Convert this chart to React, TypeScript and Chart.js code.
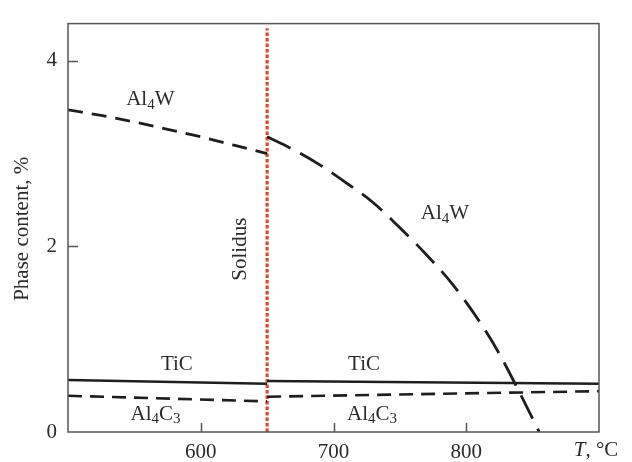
import React, { useEffect, useRef } from "react";
import { Chart, registerables } from "chart.js";

Chart.register(...registerables);

// ---- Data ----
const al4wSolidT = [500, 525, 550, 575, 600, 625, 650];
const al4wSolid = [3.47, 3.41, 3.34, 3.26, 3.18, 3.09, 3.0];
const al4wLiquidT = [650, 670, 690, 710, 730, 750, 770, 790, 810, 825, 840, 855];
const al4wLiquid = [3.18, 3.04, 2.875, 2.68, 2.47, 2.2, 1.91, 1.585, 1.19, 0.84, 0.43, 0];
const ticSolidT = [500, 650];
const ticSolid = [0.56, 0.52];
const ticLiquidT = [650, 900];
const ticLiquid = [0.55, 0.52];
const al4c3SolidT = [500, 650];
const al4c3Solid = [0.39, 0.33];
const al4c3LiquidT = [650, 900];
const al4c3Liquid = [0.38, 0.44];
const solidusT = 650;
const solidusY = [0, 4.35];
const xTickLabels = [600, 700, 800];
const yTickLabels = [0, 2, 4];

const FONT = "'Liberation Serif', 'DejaVu Serif', serif";
const FS = 21;
const TEXT = "#2b2b2b";
const LINE = "#1e1e1e";

const pts = (xs: number[], ys: number[]) => xs.map((x, i) => ({ x, y: ys[i] }));

type Seg = { t: string; sub?: boolean };
const labels: { segs: Seg[]; x: number; y: number; rot?: boolean }[] = [
  { segs: [{ t: "Al" }, { t: "4", sub: true }, { t: "W" }], x: 562, y: 3.58 },
  { segs: [{ t: "Al" }, { t: "4", sub: true }, { t: "W" }], x: 784, y: 2.35 },
  { segs: [{ t: "TiC" }], x: 582, y: 0.73 },
  { segs: [{ t: "TiC" }], x: 723, y: 0.73 },
  { segs: [{ t: "Al" }, { t: "4", sub: true }, { t: "C" }, { t: "3", sub: true }], x: 566, y: 0.19 },
  { segs: [{ t: "Al" }, { t: "4", sub: true }, { t: "C" }, { t: "3", sub: true }], x: 729, y: 0.19 },
  { segs: [{ t: "Solidus" }], x: 630, y: 1.97, rot: true },
];

function drawSegs(ctx: CanvasRenderingContext2D, segs: Seg[], cx: number, cy: number) {
  const main = `${FS}px ${FONT}`;
  const sub = `${FS - 6}px ${FONT}`;
  let total = 0;
  const widths = segs.map((s) => {
    ctx.font = s.sub ? sub : main;
    const w = ctx.measureText(s.t).width;
    total += w;
    return w;
  });
  let x = cx - total / 2;
  ctx.textBaseline = "middle";
  ctx.textAlign = "left";
  segs.forEach((s, i) => {
    ctx.font = s.sub ? sub : main;
    ctx.fillText(s.t, x, s.sub ? cy + 5 : cy);
    x += widths[i];
  });
}

const decor = {
  id: "decor",
  afterDraw(chart: any) {
    const { ctx, chartArea: a, scales } = chart;
    const xs = scales.x;
    const ys = scales.y;
    ctx.save();
    ctx.strokeStyle = "#555";
    ctx.lineWidth = 1.5;
    ctx.strokeRect(a.left, a.top, a.right - a.left, a.bottom - a.top);
    ctx.beginPath();
    xTickLabels.forEach((v) => {
      const px = Math.round(xs.getPixelForValue(v)) + 0.5;
      ctx.moveTo(px, a.bottom);
      ctx.lineTo(px, a.bottom - 9);
    });
    yTickLabels.forEach((v) => {
      if (v === 0) return;
      const py = Math.round(ys.getPixelForValue(v)) + 0.5;
      ctx.moveTo(a.left, py);
      ctx.lineTo(a.left + 10, py);
    });
    ctx.stroke();

    ctx.fillStyle = TEXT;
    labels.forEach((l) => {
      const px = xs.getPixelForValue(l.x);
      const py = ys.getPixelForValue(l.y);
      if (l.rot) {
        ctx.save();
        ctx.translate(px, py);
        ctx.rotate(-Math.PI / 2);
        drawSegs(ctx, l.segs, 0, 0);
        ctx.restore();
      } else {
        drawSegs(ctx, l.segs, px, py);
      }
    });
    ctx.save();
    ctx.translate(22, (a.top + a.bottom) / 2 + 1);
    ctx.rotate(-Math.PI / 2);
    ctx.font = `${FS}px ${FONT}`;
    ctx.textAlign = "center";
    ctx.textBaseline = "middle";
    ctx.fillText("Phase content, %", 0, 0);
    ctx.restore();
    const tx = xs.getPixelForValue(900) - 3;
    const ty = 450;
    ctx.textBaseline = "middle";
    ctx.textAlign = "left";
    ctx.font = `italic ${FS}px ${FONT}`;
    const wT = ctx.measureText("T").width;
    ctx.font = `${FS}px ${FONT}`;
    const wR = ctx.measureText(", °C").width;
    const start = tx - (wT + wR) / 2;
    ctx.font = `italic ${FS}px ${FONT}`;
    ctx.fillText("T", start, ty);
    ctx.font = `${FS}px ${FONT}`;
    ctx.fillText(", °C", start + wT, ty);
    ctx.restore();
  },
};

export default function App() {
  const ref = useRef<HTMLCanvasElement | null>(null);
  useEffect(() => {
    if (!ref.current) return;
    const dashedAl4W = {
      borderColor: LINE,
      borderWidth: 2.8,
      pointRadius: 0,
      fill: false,
      cubicInterpolationMode: "monotone",
    };
    const chart = new Chart(ref.current, {
      type: "line",
      data: {
        datasets: [
          { ...dashedAl4W, data: pts(al4wSolidT, al4wSolid), borderDash: [15, 9] },
          { ...dashedAl4W, data: pts(al4wLiquidT, al4wLiquid), borderDash: [26, 11] },
          { data: pts(ticSolidT, ticSolid), borderColor: LINE, borderWidth: 2.6, pointRadius: 0 },
          { data: pts(ticLiquidT, ticLiquid), borderColor: LINE, borderWidth: 2.6, pointRadius: 0 },
          { data: pts(al4c3SolidT, al4c3Solid), borderColor: LINE, borderWidth: 2.6, pointRadius: 0, borderDash: [14, 8] },
          { data: pts(al4c3LiquidT, al4c3Liquid), borderColor: LINE, borderWidth: 2.6, pointRadius: 0, borderDash: [14, 8] },
          {
            data: solidusY.map((y) => ({ x: solidusT, y })),
            borderColor: "#e5462a",
            borderWidth: 3.2,
            borderDash: [3.5, 2],
            pointRadius: 0,
          },
        ] as any,
      },
      options: {
        responsive: false,
        animation: false,
        events: [],
        layout: { padding: { top: 13, right: 33, left: 0, bottom: 0 } },
        plugins: { legend: { display: false }, tooltip: { enabled: false } },
        scales: {
          x: {
            type: "linear",
            min: 500,
            max: 900,
            grid: { display: false, drawTicks: false },
            border: { display: false },
            ticks: {
              stepSize: 100,
              autoSkip: false,
              maxRotation: 0,
              padding: 8,
              color: TEXT,
              font: { family: FONT, size: FS },
              callback: (v: any) => (xTickLabels.includes(Number(v)) ? String(v) : ""),
            },
            afterFit: (s: any) => {
              s.height = 30;
            },
          },
          y: {
            min: 0,
            max: 4.4,
            grid: { display: false, drawTicks: false },
            border: { display: false },
            ticks: {
              stepSize: 2,
              autoSkip: false,
              padding: 11,
              color: TEXT,
              font: { family: FONT, size: FS },
              callback: (v: any) => (yTickLabels.includes(Number(v)) ? String(v) : ""),
            },
            afterFit: (s: any) => {
              s.width = 68;
            },
          },
        },
      } as any,
      plugins: [decor],
    });
    return () => chart.destroy();
  }, []);
  return (
    <div style={{ position: "absolute", left: 0, top: 0, width: 632, height: 462, background: "#fff" }}>
      <canvas ref={ref} width={632} height={462} style={{ display: "block" }} />
    </div>
  );
}
